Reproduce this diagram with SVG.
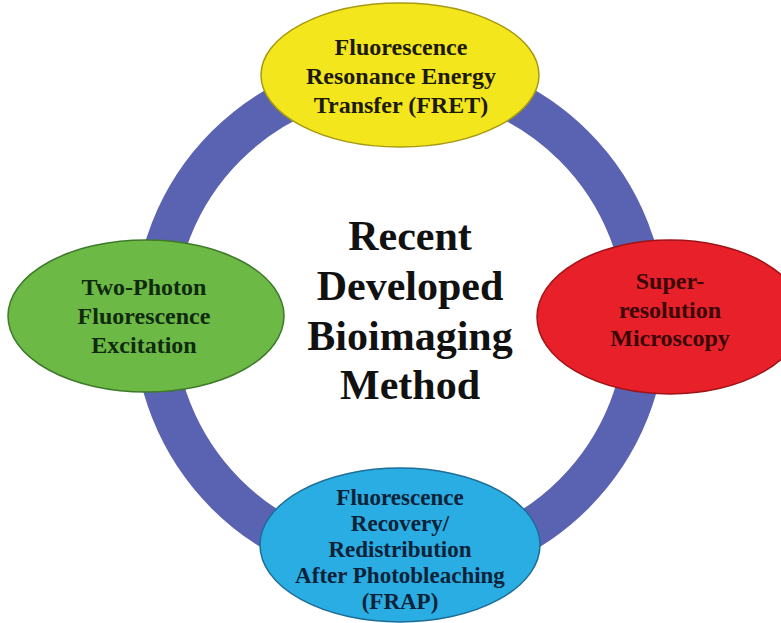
<svg xmlns="http://www.w3.org/2000/svg" width="781" height="623" viewBox="0 0 781 623">
  <style>
    .lbl { font-family: "Liberation Serif", "Times New Roman", serif; font-weight: bold; font-size: 24px; text-anchor: middle; }
    .title { font-family: "Liberation Serif", "Times New Roman", serif; font-weight: bold; font-size: 42px; text-anchor: middle; fill: #111111; }
    .ring { fill: none; stroke: #5a62b2; stroke-width: 41; }
  </style>
  <rect x="0" y="0" width="781" height="623" fill="#ffffff"/>
  <g id="connectors">
    <circle class="ring" cx="400" cy="320" r="246"/>
  </g>
  <g id="node-fret">
    <ellipse cx="400" cy="75" rx="139" ry="72" fill="#f3e61c" stroke="#a89a10" stroke-width="1.5"/>
    <text class="lbl" fill="#1c1a0a" x="401" y="55">Fluorescence</text>
    <text class="lbl" fill="#1c1a0a" x="401" y="84">Resonance Energy</text>
    <text class="lbl" fill="#1c1a0a" x="401" y="113">Transfer (FRET)</text>
  </g>
  <g id="node-twophoton">
    <ellipse cx="146" cy="316" rx="138" ry="76" fill="#6cba45" stroke="#3e7a2a" stroke-width="1.5"/>
    <text class="lbl" fill="#102a10" x="144" y="295">Two-Photon</text>
    <text class="lbl" fill="#102a10" x="144" y="324">Fluorescence</text>
    <text class="lbl" fill="#102a10" x="144" y="353">Excitation</text>
  </g>
  <g id="node-superres">
    <ellipse cx="670" cy="317" rx="133" ry="77" fill="#e8202a" stroke="#a01418" stroke-width="1.5"/>
    <text class="lbl" fill="#3a0808" x="670" y="289">Super-</text>
    <text class="lbl" fill="#3a0808" x="670" y="318">resolution</text>
    <text class="lbl" fill="#3a0808" x="670" y="346">Microscopy</text>
  </g>
  <g id="node-frap">
    <ellipse cx="400" cy="545" rx="140" ry="77" fill="#2aade3" stroke="#1d6e98" stroke-width="1.5"/>
    <text class="lbl" fill="#0c2238" x="400" y="505" style="font-size:23px">Fluorescence</text>
    <text class="lbl" fill="#0c2238" x="400" y="531" style="font-size:23px">Recovery/</text>
    <text class="lbl" fill="#0c2238" x="400" y="557" style="font-size:23px">Redistribution</text>
    <text class="lbl" fill="#0c2238" x="400" y="583" style="font-size:23px">After Photobleaching</text>
    <text class="lbl" fill="#0c2238" x="400" y="609" style="font-size:23px">(FRAP)</text>
  </g>
  <g id="center-title">
    <text class="title" x="410" y="250">Recent</text>
    <text class="title" x="410" y="300">Developed</text>
    <text class="title" x="410" y="350">Bioimaging</text>
    <text class="title" x="410" y="399">Method</text>
  </g>
</svg>
